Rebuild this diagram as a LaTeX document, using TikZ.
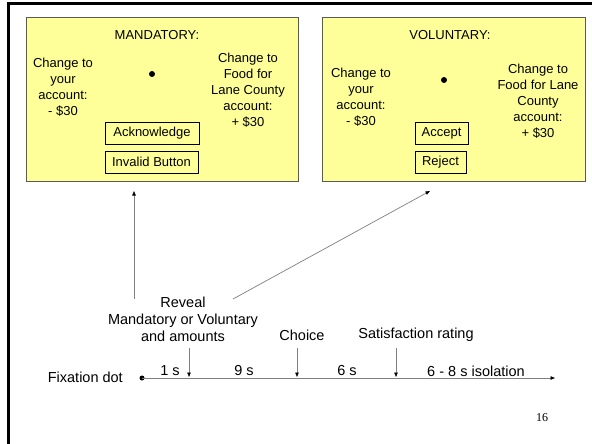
\documentclass[tikz,border=0pt]{standalone}
\usepackage{fontspec}
\setmainfont{Liberation Sans}
\newfontfamily\pagenumfont{Liberation Serif}
\usetikzlibrary{arrows.meta}
\definecolor{panelfill}{RGB}{255,255,153}
\definecolor{panelline}{RGB}{90,90,90}
\definecolor{conn}{RGB}{128,128,128}
\tikzset{
  panel/.style={draw=panelline, fill=panelfill, line width=0.8pt},
  btn/.style={draw=black, line width=0.8pt, inner sep=0pt, minimum height=22pt, font=\fontsize{13}{16}\selectfont},
  boxtxt/.style={align=center, inner sep=0pt, font=\fontsize{13}{16}\selectfont},
  tltxt/.style={align=center, inner sep=0pt, font=\fontsize{14.5}{17}\selectfont},
  fdot/.style={circle, fill=black, inner sep=0pt, minimum size=6pt},
  conn/.style={draw=conn, line width=0.7pt, -{Triangle[black,length=4.5pt,width=3.5pt]}},
}
\begin{document}
\begin{tikzpicture}[x=1pt,y=-1pt]
\useasboundingbox (0,0) rectangle (592,444);
\fill[white] (0,0) rectangle (592,444);
% frame
\draw[line width=3pt] (8,446) -- (8,4) -- (594,4);
% panels
\path[panel] (26,17) rectangle (298,181);
\path[panel] (322,17) rectangle (585,181);
% mandatory panel
\node[boxtxt] (mtitle) at (157,35) {MANDATORY:};
\node[boxtxt] (mleft) at (63,87) {Change to\\your\\account:\\- \$30};
\node[fdot] (mdot) at (152,74) {};
\node[boxtxt] (mright) at (248,90.5) {Change to\\Food for\\Lane County\\account:\\+ \$30};
\node[btn, minimum width=94pt] (ack) at (152,133) {Acknowledge};
\node[btn, minimum width=93pt] (inv) at (151.5,162) {Invalid Button};
% voluntary panel
\node[boxtxt] (vtitle) at (450,35) {VOLUNTARY:};
\node[boxtxt] (vleft) at (361,97) {Change to\\your\\account:\\- \$30};
\node[fdot] (vdot) at (444,80) {};
\node[boxtxt] (vright) at (538,101) {Change to\\Food for Lane\\County\\account:\\+ \$30};
\node[btn, minimum width=53pt] (acc) at (441.5,133) {Accept};
\node[btn, minimum width=51pt] (rej) at (440.5,162) {Reject};
% reveal arrows
\coordinate (upS) at (134,299);
\coordinate (upE) at (134,191);
\coordinate (diS) at (233,299);
\coordinate (diE) at (430,191);
\draw[conn] (upS) -- (upE);
\draw[conn] (diS) -- (diE);
% timeline labels
\node[tltxt] (reveal) at (183,319) {Reveal\\Mandatory or Voluntary\\and amounts};
\node[tltxt] (choice) at (302,335) {Choice};
\node[tltxt] (satis) at (416,335) {Satisfaction rating};
\node[tltxt, anchor=east] (fixlbl) at (123,377) {Fixation dot};
\node[fdot, minimum size=5pt] (fix) at (142,378) {};
\coordinate (tlend) at (555,378);
\draw[conn] (fix.center) -- (tlend);
\coordinate (d1s) at (189,348); \coordinate (d1e) at (189,377);
\coordinate (d2s) at (297,348); \coordinate (d2e) at (297,377);
\coordinate (d3s) at (396,348); \coordinate (d3e) at (396,377);
\draw[conn] (d1s) -- (d1e);
\draw[conn] (d2s) -- (d2e);
\draw[conn] (d3s) -- (d3e);
\node[tltxt] (t1) at (170,371) {1 s};
\node[tltxt] (t2) at (244,371) {9 s};
\node[tltxt] (t3) at (347,371) {6 s};
\node[tltxt] (t4) at (476,371) {6 - 8 s isolation};
\node[font=\pagenumfont\fontsize{12}{14}\selectfont, inner sep=0pt] (pg) at (542,418) {16};
\end{tikzpicture}
\end{document}
